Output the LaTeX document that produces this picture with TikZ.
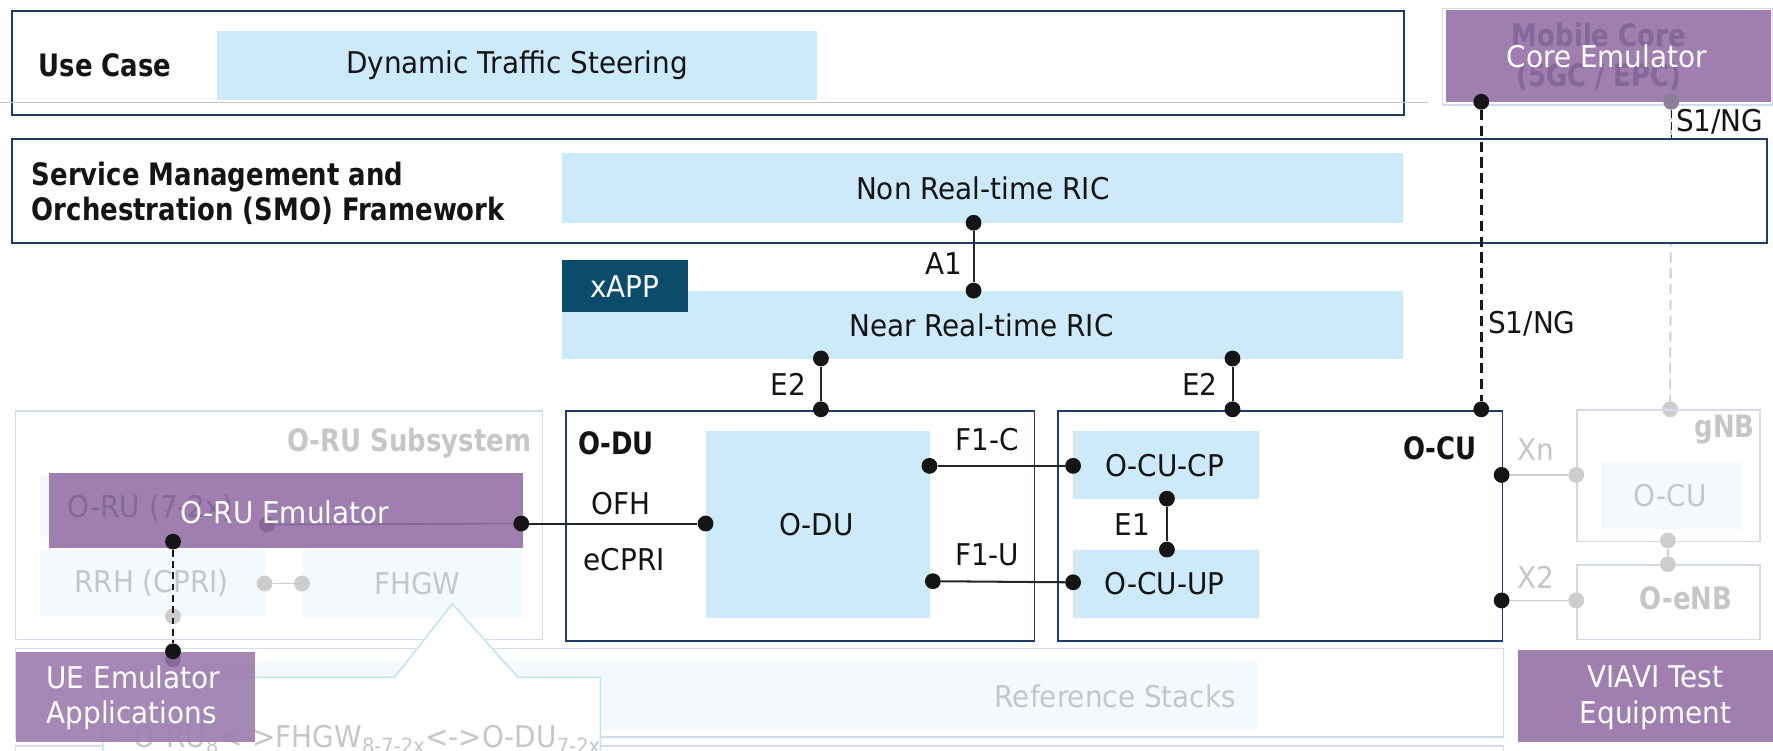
\documentclass[tikz,border=0pt]{standalone}
\usepackage{fontspec}
\setmainfont{DejaVu Sans}[FakeStretch=0.93,BoldFeatures={FakeStretch=0.84}]
\definecolor{navy}{HTML}{1F3A6E}
\definecolor{lblue}{HTML}{CCEAF9}
\definecolor{purp}{HTML}{9E7FB0}
\definecolor{xapp}{HTML}{0B4B6C}
\definecolor{ghline}{HTML}{D5DAE8}
\definecolor{ghfill}{HTML}{F4F9FE}
\definecolor{ghtext}{HTML}{C6C6C6}
\definecolor{ghdot}{HTML}{CDCDCD}
\definecolor{ghpurp}{HTML}{85679A}
\definecolor{dotblk}{HTML}{151515}
\definecolor{callout}{HTML}{BFE3F5}
\newcommand\BX[7]{\node[#6,anchor=north west,inner sep=0pt,minimum width={#4-#2},minimum height={#5-#3}] (#1) at (#2,#3) {#7};}
\tikzset{
  navybox/.style={draw=navy,line width=1.6pt,fill=white},
  lbbox/.style={fill=lblue},
  pubox/.style={fill=purp},
  ghbox/.style={draw=ghline,line width=1.3pt},
  ghfbox/.style={fill=ghfill},
  txt/.style={inner sep=0pt,text=black!92},
  btxt/.style={inner sep=0pt,font=\fontsize{27.3}{31}\selectfont\bfseries,text=black!92},
  wtxt/.style={inner sep=0pt,text=white},
  gtxt/.style={inner sep=0pt,text=ghtext},
  gbtxt/.style={inner sep=0pt,text=ghtext,font=\fontsize{27.3}{31}\selectfont\bfseries},
  dot/.style={circle,fill=dotblk,inner sep=0pt,minimum size=14pt},
  gdot/.style={circle,fill=ghdot,inner sep=0pt,minimum size=14pt},
  con/.style={line width=1.8pt,draw=black!85},
  gcon/.style={line width=1.6pt,draw=ghdot},
}
\begin{document}
\begin{tikzpicture}[x=1pt,y=-1pt,font=\fontsize{26.5}{31}\selectfont]
\useasboundingbox (0,0) rectangle (1568,664);
% ---------- top: use case ----------
\BX{uc}{10}{9}{1241}{101}{navybox}{}
\draw[ghtext,line width=1pt] (0,91) -- (1263,91);
\BX{dts}{192}{27}{722}{88}{lbbox}{}
\node[txt] at (dts.center) {Dynamic Traffic Steering};
\node[btxt] (uctxt) at (93,58) {Use Case};
% ---------- core emulator ----------
\BX{coreg}{1275}{7}{1567}{92}{ghbox}{}
\BX{core}{1279}{9}{1566}{90}{pubox}{}
\node[inner sep=0pt,text=ghpurp,font=\fontsize{27.3}{31}\selectfont\bfseries] (mc1) at (1414,31) {Mobile Core};
\node[inner sep=0pt,text=ghpurp,font=\fontsize{27.3}{31}\selectfont\bfseries] (mc2) at (1414,68) {(5GC / EPC)};
\node[wtxt] (coret) at (1421,50) {Core Emulator};
% S1/NG grey line (behind SMO)
\node[circle,fill={rgb,255:red,142;green,126;blue,152},inner sep=0pt,minimum size=14pt] (cdg) at (1478,90) {};
\node[gdot] (gnbt) at (1477,362) {};
\draw[gcon,dashed,dash pattern=on 9pt off 5pt] (cdg) -- (gnbt);
\coordinate (smotop) at (1478,122);
\draw[line width=1.3pt,black!85,dash pattern=on 7pt off 4pt] (cdg) -- (smotop);
\node[txt,anchor=west] (s1a) at (1482,108) {S1/NG};
% ---------- SMO ----------
\BX{smo}{10}{122}{1562}{214}{navybox}{}
\node[btxt,anchor=west,align=left] (smot) at (28,171) {Service Management and\\Orchestration (SMO) Framework};
\BX{nrt}{497}{135}{1241}{197}{lbbox}{}
\node[txt] at (nrt.center) {Non Real-time RIC};
\BX{near}{497}{257}{1241}{317}{lbbox}{}
\node[txt] at (868,288) {Near Real-time RIC};
\BX{xapp}{497}{230}{608}{276}{fill=xapp}{}
\node[wtxt] at (xapp.center) {xAPP};
% ---------- O-RU subsystem (ghost) ----------
\BX{orus}{13}{363}{479}{565}{ghbox}{}
\node[gbtxt,anchor=east] at (470,392) {O-RU Subsystem};
\BX{oru72}{35}{421}{234}{475}{ghfbox}{}
\BX{rrh}{35}{486}{234}{545}{ghfbox}{}
\node[gtxt] at (134,516) {RRH (CPRI)};
\BX{fhgw}{268}{486}{462}{546}{ghfbox}{}
\node[gtxt] at (369,516) {FHGW};
\node[gdot] (rrhd) at (234,516) {};
\node[gdot] (fhgwd) at (267,516) {};
\draw[gcon] (rrhd) -- (fhgwd);
\node[gdot] (rrhb) at (153,545) {};
% ---------- bottom rows (ghost) ----------
\BX{refrow}{13}{573}{1329}{651}{ghbox}{}
\BX{refin}{100}{584}{1112}{645}{ghfbox}{}
\node[gtxt,anchor=east] at (1093,616) {Reference Stacks};
\BX{botrow}{13}{659}{1329}{720}{ghbox}{}
% callout
\draw[callout,line width=1.3pt,fill=white] (91,700) -- (91,599) -- (349,599) -- (400,534) -- (458,599) -- (531,599) -- (531,700);
\node[gtxt,anchor=base west] (calt) at (118,661) {O-RU\textsubscript{8}<->FHGW\textsubscript{8-7-2x}<->O-DU\textsubscript{7-2x}};
% ---------- O-RU emulator ----------
\BX{orue}{43}{418}{462}{484}{pubox}{}
\node[inner sep=0pt,text=ghpurp] at (133,449) {O-RU (7-2x)};
\node[circle,fill=ghpurp,inner sep=0pt,minimum size=14pt] (orug) at (236,464) {};
\coordinate (oruer) at (461,463);
\draw[ghpurp,line width=1.4pt] (orug) -- (oruer);
\node[wtxt] at (252,453) {O-RU Emulator};
% ---------- O-DU ----------
\BX{odubox}{500}{363}{914}{566}{navybox}{}
\node[btxt,anchor=west] at (511,392) {O-DU};
\BX{oduin}{624}{381}{822}{546}{lbbox}{}
\node[txt] at (722,464) {O-DU};
\node[txt] at (549,445) {OFH};
\node[txt] at (552,495) {eCPRI};
% ---------- O-CU ----------
\BX{ocubox}{935}{363}{1328}{566}{navybox}{}
\node[btxt,anchor=east] at (1306,396) {O-CU};
\BX{cp}{949}{381}{1113}{441}{lbbox}{}
\node[txt] at (1030,412) {O-CU-CP};
\BX{up}{949}{486}{1113}{546}{lbbox}{}
\node[txt] at (1030,516) {O-CU-UP};
% ---------- gNB / O-eNB (ghost) ----------
\BX{gnb}{1394}{362}{1556}{478}{ghbox}{}
\node[gbtxt,anchor=east] at (1552,380) {gNB};
\BX{gnbin}{1416}{408}{1540}{468}{ghfbox}{}
\node[gtxt] at (1477,438) {O-CU};
\BX{enb}{1394}{499}{1556}{565}{ghbox}{}
\node[gbtxt] at (1491,529) {O-eNB};
\node[gtxt] at (1358,398) {Xn};
\node[gtxt] at (1358,511) {X2};
% ---------- purple boxes ----------
\BX{ue}{14}{576}{225}{656}{pubox,fill opacity=0.93}{}
\node[wtxt,anchor=west,align=left] at (41,617) {UE Emulator\\Applications};
\BX{viavi}{1342}{575}{1568}{656}{pubox}{}
\node[wtxt,align=center] at (1464,617) {VIAVI Test\\Equipment};
% ---------- connectors ----------
\node[dot] (a1t) at (861,197) {};
\node[dot] (a1b) at (861,257) {};
\draw[con] (a1t) -- (a1b);
\node[txt,anchor=east] at (851,233) {A1};
\node[dot] (e2lt) at (726,317) {};
\node[dot] (e2lb) at (726,362) {};
\draw[con] (e2lt) -- (e2lb);
\node[txt,anchor=east] at (713,340) {E2};
\node[dot] (e2rt) at (1090,317) {};
\node[dot] (e2rb) at (1090,362) {};
\draw[con] (e2rt) -- (e2rb);
\node[txt,anchor=east] at (1077,340) {E2};
\node[dot] (oru) at (461,463) {};
\node[dot] (odu) at (624,463) {};
\draw[con] (oru) -- (odu);
\node[dot] (f1ca) at (822,412) {};
\node[dot] (f1cb) at (949,412) {};
\draw[con] (f1ca) -- (f1cb);
\node[txt] at (873,389) {F1-C};
\node[dot] (f1ua) at (825,514) {};
\node[dot] (f1ub) at (949,515) {};
\draw[con] (f1ua) -- (f1ub);
\node[txt] at (873,491) {F1-U};
\node[dot] (e1a) at (1032,441) {};
\node[dot] (e1b) at (1032,486) {};
\draw[con] (e1a) -- (e1b);
\node[txt,anchor=east] at (1017,464) {E1};
\node[dot] (xna) at (1328,420) {};
\node[gdot] (xnb) at (1394,420) {};
\draw[gcon] (xna) -- (xnb);
\node[dot] (x2a) at (1328,531) {};
\node[gdot] (x2b) at (1394,531) {};
\draw[gcon] (x2a) -- (x2b);
\node[gdot] (gnbb) at (1475,478) {};
\node[gdot] (enbt) at (1475,499) {};
\draw[gcon] (gnbb) -- (enbt);
% S1/NG main
\node[dot] (corel) at (1310,90) {};
\node[dot] (ocut) at (1310,362) {};
\draw[line width=3pt,black!90,dash pattern=on 9pt off 5pt] (corel) -- (ocut);
\node[txt,anchor=west] at (1316,286) {S1/NG};
% UE link
\node[circle,fill=ghpurp,inner sep=0pt,minimum size=14pt] (ueg) at (153,583) {};
\node[dot] (uea) at (153,479) {};
\node[dot] (ueb) at (153,576) {};
\draw[line width=1.4pt,black!90,dash pattern=on 6pt off 4pt] (uea) -- (ueb);
\end{tikzpicture}
\end{document}
